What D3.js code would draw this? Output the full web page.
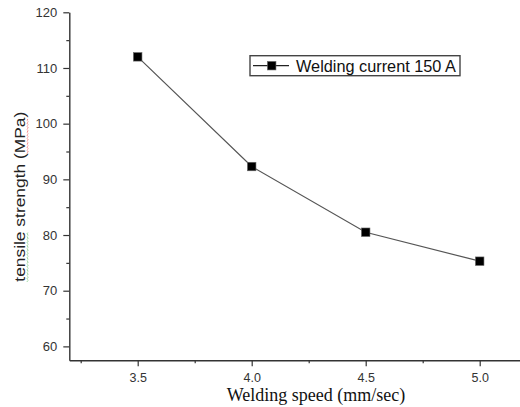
<!DOCTYPE html>
<html><head><meta charset="utf-8">
<script src="https://cdn.jsdelivr.net/npm/d3@7"></script>
<style>body{margin:0;background:#fff}svg{display:block}</style>
</head><body>
<script>
const speeds = [3.5, 4.0, 4.5, 5.0];
const strength = [112.0, 92.3, 80.5, 75.3];
const seriesName = "Welding current 150 A";
const xTicks = [3.5, 4.0, 4.5, 5.0];
const xMinorTicks = [3.25, 3.75, 4.25, 4.75];
const yTicks = [60, 70, 80, 90, 100, 110, 120];
const yMinorTicks = [65, 75, 85, 95, 105, 115];
const xTitle = "Welding speed (mm/sec)";
const yTitle = "tensile strength (MPa)";

const W = 520, H = 407;
const svg = d3.select("body").append("svg").attr("width", W).attr("height", H);
const x = d3.scaleLinear().domain([3.2, 5.2]).range([69.3, 525.3]);
const y = d3.scaleLinear().domain([57.5, 120]).range([360.3, 12.3]);
const axisColor = "#333";
const textColor = "#333";
const sans = "'Liberation Sans', Arial, sans-serif";

// X axis
const gx = svg.append("g").attr("transform", `translate(0,${y(57.5)})`);
gx.call(d3.axisBottom(x).tickValues(xTicks).tickSize(6).tickSizeOuter(0).tickFormat(d3.format(".1f")));
gx.append("g").call(d3.axisBottom(x).tickValues(xMinorTicks).tickSize(3).tickSizeOuter(0).tickFormat(""))
  .select(".domain").remove();
gx.selectAll(".domain").attr("stroke", axisColor).attr("stroke-width", 1.4);
gx.selectAll(".tick line").attr("stroke", axisColor).attr("stroke-width", 1.2);
gx.selectAll(".tick text").attr("y", 21.8).attr("dy", null)
  .attr("fill", textColor).style("font-family", sans).style("font-size", "12.5px");

// Y axis
const gy = svg.append("g").attr("transform", `translate(${x(3.2)},0)`);
gy.call(d3.axisLeft(y).tickValues(yTicks).tickSize(6).tickSizeOuter(0).tickPadding(6).tickFormat(d3.format("d")));
gy.append("g").call(d3.axisLeft(y).tickValues(yMinorTicks).tickSize(3).tickSizeOuter(0).tickFormat(""))
  .select(".domain").remove();
gy.selectAll(".domain").attr("stroke", axisColor).attr("stroke-width", 1.4);
gy.selectAll(".tick line").attr("stroke", axisColor).attr("stroke-width", 1.2);
gy.selectAll(".tick text").attr("fill", textColor).style("font-family", sans).style("font-size", "13px");

// Axis titles
svg.append("text").attr("x", 316).attr("y", 401).attr("text-anchor", "middle")
  .style("font-family", "'Liberation Serif', 'Times New Roman', serif").style("font-size", "18px")
  .attr("fill", "#111").text(xTitle);

const yt = svg.append("g").attr("transform", "translate(24.5,196.7) rotate(-90)");
const ytText = yt.append("text").attr("x", 0).attr("y", 0).attr("text-anchor", "middle")
  .style("font-family", sans).style("font-size", "15px")
  .attr("textLength", 170).attr("lengthAdjust", "spacingAndGlyphs")
  .attr("fill", "#222").text(yTitle);

// spell-check style squiggles under "tensile" and "MPa"
function squiggle(startIdx, endIdx, color) {
  const node = ytText.node();
  let x0, x1;
  try {
    x0 = node.getStartPositionOfChar(startIdx).x;
    x1 = node.getEndPositionOfChar(endIdx).x;
  } catch (e) { return; }
  const pts = [];
  for (let xx = x0, k = 0; xx <= x1; xx += 1.5, k++) pts.push([xx, 2.6 + (k % 2 ? 1 : 0)]);
  yt.append("path").attr("d", d3.line()(pts)).attr("fill", "none")
    .attr("stroke", color).attr("stroke-width", 0.7).attr("stroke-dasharray", "1,0.6");
}
squiggle(0, 6, "#3cb043");
const mIdx = yTitle.indexOf("MPa");
squiggle(mIdx, mIdx + 2, "#e33");

// Line + markers
const pts = speeds.map((s, i) => [s, strength[i]]);
svg.append("path").datum(pts)
  .attr("d", d3.line().x(d => x(d[0])).y(d => y(d[1])))
  .attr("fill", "none").attr("stroke", "#555").attr("stroke-width", 1.2);
const ms = 8.5;
svg.selectAll("rect.pt").data(pts).join("rect").attr("class", "pt")
  .attr("x", d => x(d[0]) - ms / 2).attr("y", d => y(d[1]) - ms / 2)
  .attr("width", ms).attr("height", ms)
  .attr("fill", "#000").attr("stroke", "#666").attr("stroke-width", 0.6);

// Legend
const lg = svg.append("g").attr("transform", "translate(250,55.7)");
lg.append("rect").attr("width", 210).attr("height", 20).attr("fill", "#fff")
  .attr("stroke", "#444").attr("stroke-width", 1.4);
lg.append("line").attr("x1", 3).attr("x2", 39).attr("y1", 10).attr("y2", 10)
  .attr("stroke", "#222").attr("stroke-width", 1.2);
lg.append("rect").attr("x", 21.7 - ms / 2).attr("y", 10 - ms / 2).attr("width", ms).attr("height", ms)
  .attr("fill", "#000").attr("stroke", "#666").attr("stroke-width", 0.6);
lg.append("text").attr("x", 46).attr("y", 16.6)
  .style("font-family", sans).style("font-size", "16.3px").attr("fill", "#111").text(seriesName);
</script>
</body></html>
